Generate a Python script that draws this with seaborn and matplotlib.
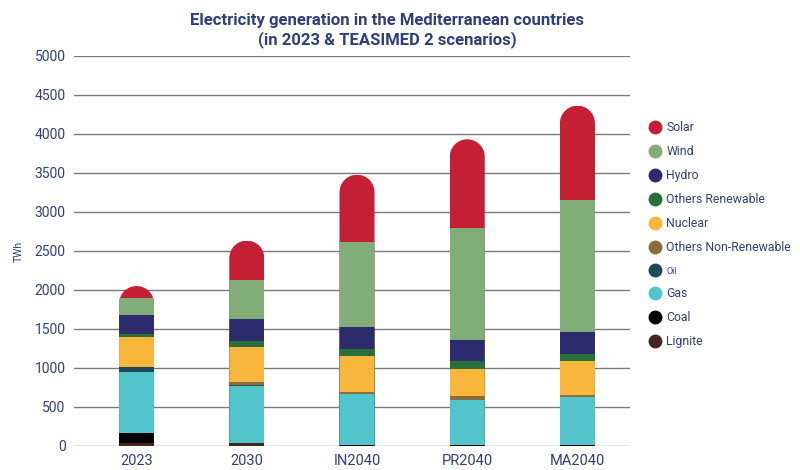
import numpy as np
import pandas as pd
import seaborn as sns
import matplotlib
matplotlib.use('Agg')
from matplotlib import pyplot as plt
from matplotlib.lines import Line2D
from matplotlib.path import Path
from matplotlib.patches import PathPatch

# data (TWh)
scenarios = ["2023", "2030", "IN2040", "PR2040", "MA2040"]
lignite = [42, 35, 5, 5, 5]
coal = [125, 8, 10, 10, 10]
gas = [786, 730, 652, 575, 613]
oil = [64, 5, 0, 0, 0]
others_nonren = [0, 48, 29, 51, 30]
nuclear = [380, 448, 462, 346, 432]
others_ren = [43, 77, 86, 103, 93]
hydro = [243, 282, 282, 273, 279]
wind = [218, 500, 1089, 1432, 1692]
solar = [150, 500, 863, 1137, 1209]

sources = ["Lignite", "Coal", "Gas", "Oil", "Others Non-Renewable", "Nuclear",
           "Others Renewable", "Hydro", "Wind", "Solar"]
values = [lignite, coal, gas, oil, others_nonren, nuclear, others_ren, hydro, wind, solar]
colors = ["#45271f", "#000000", "#52c4cc", "#1e4a5a", "#8a6d3a", "#f8b63d",
          "#28703a", "#2d2a6e", "#80ad78", "#c41f35"]

navy = "#2e3f7c"
sns.set_style("white")
plt.rcParams['font.family'] = ['Roboto', 'DejaVu Sans']

df = pd.DataFrame(dict(zip(sources, values)), index=scenarios)
cum = df.cumsum(axis=1)

fig = plt.figure(figsize=(8, 4.7), dpi=100)
ax = fig.add_axes([0.0925, 0.0511, 0.695, 0.8298])

bw = 0.318
# stacked bars: draw cumulative totals from the top down
for src, c in reversed(list(zip(sources, colors))):
    sns.barplot(x=cum.index, y=cum[src].values, color=c, width=bw,
                linewidth=0, saturation=1, ax=ax)

ax.set_ylim(0, 5000)
ax.set_xlim(-0.568, 4.477)
ax.set_yticks(np.arange(0, 5001, 500))
ax.yaxis.grid(True, color="#7a7a7a", lw=1)
ax.set_axisbelow(True)
for s in ax.spines.values():
    s.set_visible(False)
ax.tick_params(axis='y', length=0, pad=6, labelsize=10, labelcolor=navy)
ax.tick_params(axis='x', length=0, pad=6, labelsize=10.5, labelcolor=navy)
ax.set_xlabel("")
ax.set_ylabel("TWh", fontsize=7.5, color=navy, labelpad=8)

# semicircular top on every stack (clip path, circle in pixels)
p = ax.transData.transform([[0, 0], [1, 1]])
aspect = (p[1, 0] - p[0, 0]) / (p[1, 1] - p[0, 1])
r = bw / 2
arc = Path.arc(0, 180)
totals = df.sum(axis=1).values
clips = []
for i, t in enumerate(totals):
    verts = arc.vertices * [r, r * aspect] + [i, t - r * aspect]
    verts = np.vstack([verts, [[i - r, -2000], [i + r, -2000], verts[0]]])
    codes = list(arc.codes) + [Path.LINETO, Path.LINETO, Path.CLOSEPOLY]
    clips.append(PathPatch(Path(verts, codes), transform=ax.transData))
for bar in ax.patches:
    i = int(round(bar.get_x() + bar.get_width() / 2))
    bar.set_clip_path(clips[i])

fig.text(0.484, 0.972, "Electricity generation in the Mediterranean countries\n(in 2023 & TEASIMED 2 scenarios)",
         ha='center', va='top', fontsize=12, fontweight='bold', color=navy, linespacing=1.25)

handles = [Line2D([], [], marker='o', ls='', markersize=9, color=c)
           for c in reversed(colors)]
leg = fig.legend(handles, list(reversed(sources)), loc='upper left',
                 bbox_to_anchor=(0.804, 0.755), frameon=False, fontsize=8.8,
                 labelspacing=0.9, handletextpad=0.4, handlelength=1.0, borderpad=0)
for txt in leg.get_texts():
    txt.set_color(navy)
    if txt.get_text() == "Oil":
        txt.set_fontsize(6.5)

fig.savefig("out.png", dpi=100)
